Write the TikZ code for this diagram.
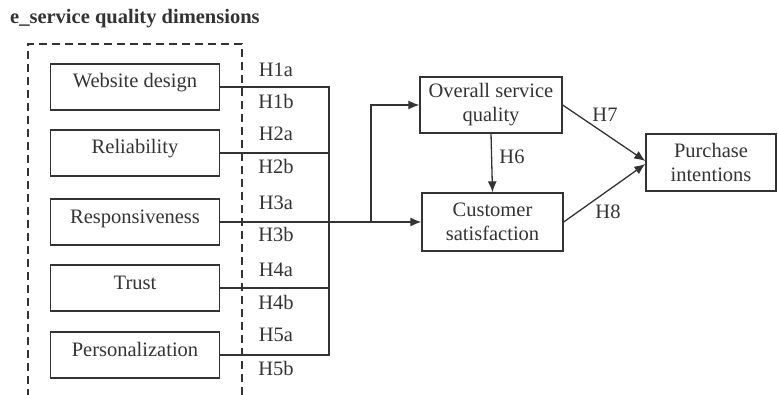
\documentclass[tikz,border=0pt]{standalone}
\usepackage{fontspec}
\setmainfont{Liberation Serif}
\usetikzlibrary{arrows.meta}
\tikzset{
% Boxes for the constructs, plain lines and arrows
dim box/.style={draw,line width=1.3pt,minimum width=169pt,minimum height=46pt,inner sep=0pt,text height=14pt,text depth=12pt},
con box/.style={draw,line width=1.3pt,align=center,inner sep=0pt},
link/.style={line width=1.3pt},
arrow/.style={line width=1.3pt,-{Latex[length=11pt,width=9pt]}}
}

\begin{document}
\begin{tikzpicture}[x=1pt,y=-1pt,color=black!80,font=\fontsize{20.5}{24}\selectfont]
\useasboundingbox (0,0) rectangle (778,395);
% Title and the dashed group
\node[anchor=base west,inner sep=0pt,font=\bfseries\fontsize{20.5}{24}\selectfont](title) at (10,24){e\_service quality dimensions};
\draw[line width=1.3pt,dash pattern=on 8pt off 5pt](242,395)--(242,44)--(28,44)--(28,395);
% The dimensions
\node(web)[dim box] at (135,87){Website design};
\node(rel)[dim box] at (135,153){Reliability};
\node(res)[dim box] at (135,222){Responsiveness};
\node(tru)[dim box] at (135,288){Trust};
\node(per)[dim box] at (135,355){Personalization};
% The outcomes
\node(osq)[con box,minimum width=142pt,minimum height=56pt] at (491,105){Overall service\\quality};
\node(cs)[con box,minimum width=141pt,minimum height=58pt] at (492.5,222){Customer\\satisfaction};
\node(pi)[con box,minimum width=130pt,minimum height=57pt] at (711,162.5){Purchase\\intentions};
% Joining lines
\coordinate(bus) at (329,222);
\coordinate(split) at (371,222);
\draw[link](web.east)-|(bus);
\draw[link](rel.east)-|(bus);
\draw[link](tru.east)-|(bus);
\draw[link](per.east)-|(bus);
\draw[arrow](res.east)--(cs.west);
\draw[arrow](split)|-(osq.west);
\draw[arrow](osq.south)--(cs.north);
\draw[arrow](osq.east)--([yshift=1.5pt]pi.west);
\draw[arrow](cs.east)--([yshift=-1.5pt]pi.west);
% Hypotheses
\node(h1a) at (276,70){H1a};
\node(h1b) at (276,101){H1b};
\node(h2a) at (276,134){H2a};
\node(h2b) at (276,166){H2b};
\node(h3a) at (276,203){H3a};
\node(h3b) at (276,234){H3b};
\node(h4a) at (276,270){H4a};
\node(h4b) at (276,302){H4b};
\node(h5a) at (276,335){H5a};
\node(h5b) at (276,368){H5b};
\node(h6) at (512,157){H6};
\node(h7) at (605,115){H7};
\node(h8) at (608,212){H8};
\end{tikzpicture}
\end{document}
